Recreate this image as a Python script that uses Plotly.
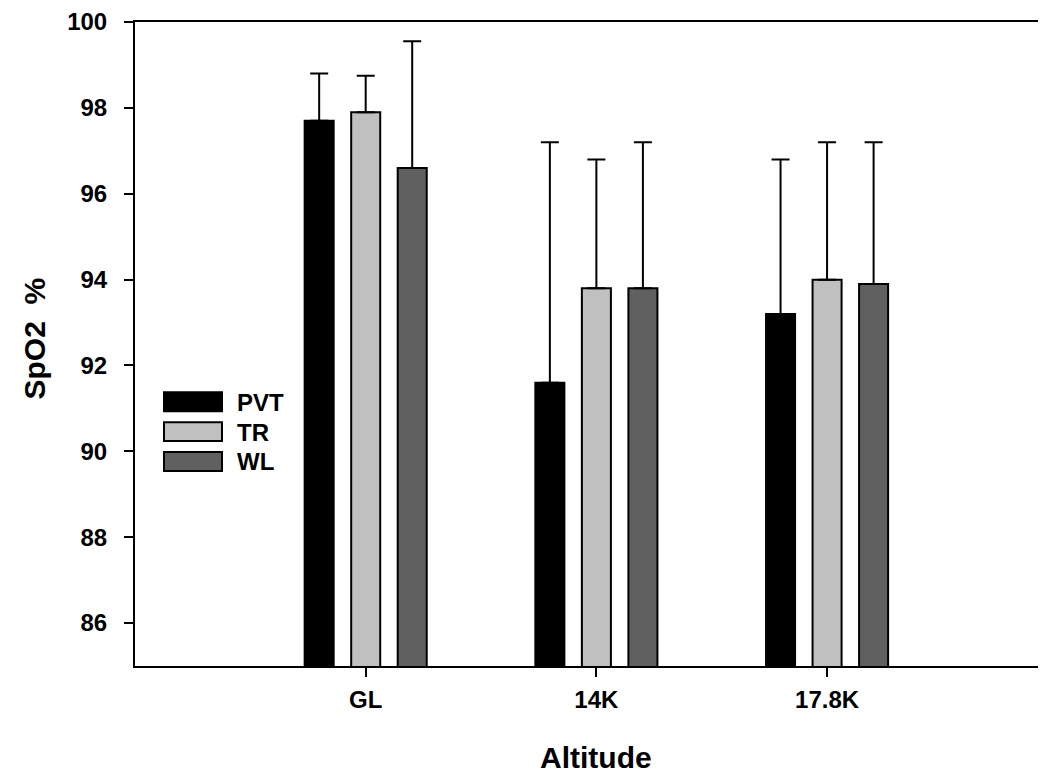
import plotly.graph_objects as go

# ---- data ----
categories = ["GL", "14K", "17.8K"]
series_names = ["PVT", "TR", "WL"]
pvt_mean = [97.7, 91.6, 93.2]
pvt_sd = [1.1, 5.6, 3.6]
tr_mean = [97.9, 93.8, 94.0]
tr_sd = [0.85, 3.0, 3.2]
wl_mean = [96.6, 93.8, 93.9]
wl_sd = [2.95, 3.4, 3.3]
y_ticks = [86, 88, 90, 92, 94, 96, 98, 100]

means = [pvt_mean, tr_mean, wl_mean]
sds = [pvt_sd, tr_sd, wl_sd]
colors = ["#000000", "#c0c0c0", "#606060"]

FONT = "Arial, Liberation Sans, sans-serif"
# page body adds an 8px margin, so figure coords = reference coords - 8
W, H = 1038, 766
ML, MT, MB, MR = 127, 11, 108, 0
PW = W - ML - MR
PH = H - MT - MB

fig = go.Figure()
for name, m, s, c in zip(series_names, means, sds, colors):
    fig.add_trace(go.Bar(
        x=categories, y=m, name=name,
        marker=dict(color=c, line=dict(color="black", width=2)),
        error_y=dict(type="data", array=s, arrayminus=[0] * len(s), symmetric=False,
                     color="black", thickness=2, width=9),
        showlegend=False,
    ))

def px_x(px):
    return (px - ML) / PW

def px_y(py):
    return (H - MB - py) / PH

# custom legend with large swatches
shapes = []
annotations = []
sw_top = [383, 413, 443]
for name, c, top in zip(series_names, colors, sw_top):
    shapes.append(dict(type="rect", xref="paper", yref="paper",
                       x0=px_x(156), x1=px_x(214), y0=px_y(top + 19), y1=px_y(top),
                       fillcolor=c, line=dict(color="black", width=2)))
    annotations.append(dict(xref="paper", yref="paper", x=px_x(227), y=px_y(top + 10),
                            text=name, showarrow=False, xanchor="left", yanchor="middle",
                            font=dict(family=FONT, size=24, color="black", weight="bold")))

# axis titles
annotations.append(dict(xref="paper", yref="paper", x=px_x(588), y=px_y(750),
                        text="Altitude", showarrow=False, xanchor="center", yanchor="middle",
                        font=dict(family=FONT, size=30, color="black", weight="bold")))
annotations.append(dict(xref="paper", yref="paper", x=px_x(27), y=px_y(329),
                        text="SpO2  %", showarrow=False, xanchor="center", yanchor="middle",
                        textangle=-90,
                        font=dict(family=FONT, size=30, color="black", weight="bold")))

fig.update_layout(
    width=W, height=H,
    margin=dict(l=ML, r=MR, t=MT, b=MB, pad=0),
    paper_bgcolor="white", plot_bgcolor="white",
    barmode="group", bargap=0.395, bargroupgap=0.376,
    shapes=shapes, annotations=annotations,
    xaxis=dict(type="category", range=[-1, 2.949], showgrid=False, zeroline=False,
               showline=True, linecolor="black", linewidth=2, mirror=True,
               ticks="outside", ticklen=9, tickwidth=2, tickcolor="black",
               tickfont=dict(family=FONT, size=24, color="black", weight="bold"),
               ticklabelstandoff=2),
    yaxis=dict(range=[85, 100.001], tickvals=y_ticks, showgrid=False, zeroline=False,
               showline=True, linecolor="black", linewidth=2,
               ticks="outside", ticklen=9, tickwidth=2, tickcolor="black",
               tickfont=dict(family=FONT, size=24, color="black", weight="bold"),
               ticklabelstandoff=12, ticklabeloverflow="allow"),
)

fig.write_html("out.html")
